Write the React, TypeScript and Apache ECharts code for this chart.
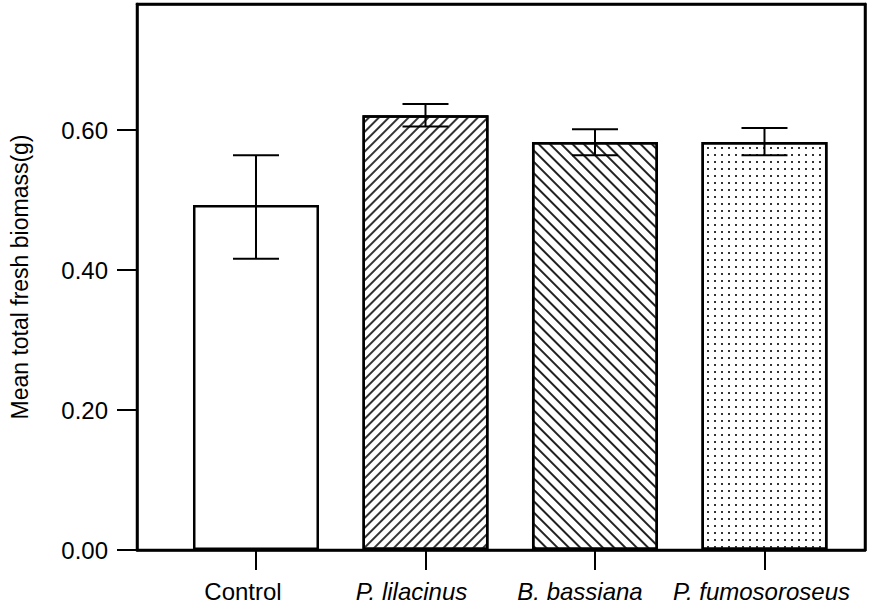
import React, { useEffect, useRef } from "react";
import * as echarts from "echarts";

const categories = ["Control", "P. lilacinus", "B. bassiana", "P. fumosoroseus"];
const italicFlags = [false, true, true, true];
const means = [0.493, 0.621, 0.583, 0.583];
const errLow = [0.416, 0.605, 0.564, 0.564];
const errHigh = [0.564, 0.637, 0.601, 0.603];
const yTickValues = [0, 0.2, 0.4, 0.6];
const yAxisTitle = "Mean total fresh biomass(g)";

const FONT = "'Liberation Sans', Arial, Helvetica, sans-serif";
// leftward shift (px) of each category label relative to its tick, as in the reference
const LABEL_SHIFT = [13, 14, 15, 3];

export default function App() {
  const ref = useRef<HTMLDivElement>(null);
  useEffect(() => {
    if (!ref.current) return;
    const chart = echarts.init(ref.current, null, { renderer: "svg" });
    const decals: any[] = [
      null,
      {
        symbol: "rect",
        symbolSize: 1,
        color: "#333",
        dashArrayX: [1, 0],
        dashArrayY: [1.3, 4.5],
        rotation: -Math.PI / 4,
      },
      {
        symbol: "rect",
        symbolSize: 1,
        color: "#222",
        dashArrayX: [1, 0],
        dashArrayY: [1.5, 5.6],
        rotation: Math.PI / 4,
      },
      {
        symbol: "rect",
        symbolSize: 1,
        color: "#333",
        dashArrayX: [1.5, 5],
        dashArrayY: [1.5, 4.2],
        rotation: 0,
      },
    ];
    const barData = means.map((m, i) => ({
      value: [i, m],
      itemStyle: {
        color: "#fff",
        borderColor: "#000",
        borderWidth: 2.5,
        ...(decals[i] ? { decal: decals[i] } : {}),
      },
    }));
    const errData = means.map((_, i) => [i, errLow[i], errHigh[i]]);
    const rich: any = {};
    categories.forEach((_, i) => {
      rich["c" + i] = {
        fontFamily: FONT,
        fontSize: 24,
        color: "#000",
        fontStyle: italicFlags[i] ? "italic" : "normal",
        padding: [0, LABEL_SHIFT[i] * 2, 0, 0],
      };
    });
    const xMin = -0.702;
    const xMax = 3.593;
    chart.setOption({
      animation: false,
      backgroundColor: "#fff",
      grid: {
        left: 137,
        right: 12,
        top: 4,
        bottom: 58,
        show: true,
        borderColor: "#000",
        borderWidth: 2.5,
        backgroundColor: "transparent",
      },
      xAxis: [
        {
          type: "value",
          min: xMin,
          max: xMax,
          splitLine: { show: false },
          axisLine: { show: true, onZero: false, lineStyle: { color: "#000", width: 2.5 } },
          axisTick: {
            show: true,
            customValues: [0, 1, 2, 3],
            length: 20,
            lineStyle: { color: "#000", width: 2 },
          },
          axisLabel: {
            customValues: [0, 1, 2, 3],
            margin: 29,
            color: "#000",
            fontFamily: FONT,
            fontSize: 24,
            formatter: (v: number) => {
              const i = Math.round(v);
              return `{c${i}|${categories[i]}}`;
            },
            rich,
          },
        },
        {
          type: "value",
          position: "top",
          min: xMin,
          max: xMax,
          splitLine: { show: false },
          axisLine: { show: true, onZero: false, lineStyle: { color: "#000", width: 2.5 } },
          axisTick: { show: false },
          axisLabel: { show: false },
        },
      ],
      yAxis: [
        {
          type: "value",
          min: 0,
          max: 0.78,
          name: yAxisTitle,
          nameLocation: "middle",
          nameGap: 106,
          nameTextStyle: { fontFamily: FONT, fontSize: 23, color: "#000" },
          splitLine: { show: false },
          axisLine: { show: true, onZero: false, lineStyle: { color: "#000", width: 2.5 } },
          axisTick: {
            show: true,
            customValues: yTickValues,
            length: 20,
            lineStyle: { color: "#000", width: 2 },
          },
          axisLabel: {
            customValues: yTickValues,
            margin: 29,
            color: "#000",
            fontFamily: FONT,
            fontSize: 24,
            formatter: (v: number) => v.toFixed(2),
          },
        },
        {
          type: "value",
          position: "right",
          min: 0,
          max: 0.78,
          splitLine: { show: false },
          axisLine: { show: true, onZero: false, lineStyle: { color: "#000", width: 2.5 } },
          axisTick: { show: false },
          axisLabel: { show: false },
        },
      ],
      series: [
        {
          type: "bar",
          data: barData,
          barWidth: 126,
          z: 2,
        },
        {
          type: "custom",
          z: 5,
          data: errData,
          renderItem: (params: any, api: any) => {
            const x = api.value(0);
            const lo = api.coord([x, api.value(1)]);
            const hi = api.coord([x, api.value(2)]);
            const hw = 23;
            const st = { stroke: "#000", lineWidth: 2 };
            return {
              type: "group",
              children: [
                { type: "line", shape: { x1: hi[0], y1: hi[1], x2: lo[0], y2: lo[1] }, style: st },
                { type: "line", shape: { x1: hi[0] - hw, y1: hi[1], x2: hi[0] + hw, y2: hi[1] }, style: st },
                { type: "line", shape: { x1: lo[0] - hw, y1: lo[1], x2: lo[0] + hw, y2: lo[1] }, style: st },
              ],
            };
          },
        },
      ],
    });
    return () => chart.dispose();
  }, []);
  return (
    <div
      ref={ref}
      style={{ position: "fixed", left: 0, top: 0, width: 877, height: 608, background: "#fff" }}
    />
  );
}
